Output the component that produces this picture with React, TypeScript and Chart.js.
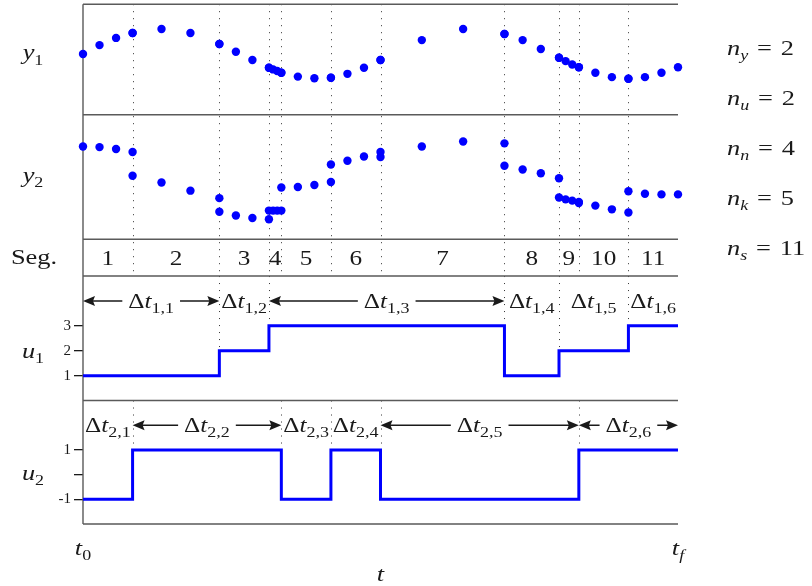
import React, { useEffect, useRef } from 'react';
import { Chart, registerables } from 'chart.js';

Chart.register(...registerables);

const FONT = '"Liberation Serif", "Times New Roman", serif';
const INK = '#1a1a1a';
const BLUE = '#0000ff';
const FRAME = '#5a5a5a';
const TEXT_STRETCH = 1.2;

// Segment boundaries on the time axis, t0 = 0 and tf = 12
const segmentBounds = [0, 1, 2.75, 3.75, 4, 5, 6, 8.5, 9.6, 10, 11, 12];
const segmentLabels = ['1', '2', '3', '4', '5', '6', '7', '8', '9', '10', '11'];
// Relative position of the collocation nodes inside every segment
const nodeFractions = [0, 1 / 3, 2 / 3, 1];

// Output y1, four nodes per segment
const y1Values = [
  0.10, 0.26, 0.39, 0.48,
  0.48, 0.55, 0.48, 0.28,
  0.28, 0.14, -0.01, -0.15,
  -0.15, -0.18, -0.21, -0.24,
  -0.24, -0.31, -0.34, -0.33,
  -0.33, -0.26, -0.15, -0.01,
  -0.01, 0.35, 0.55, 0.46,
  0.46, 0.35, 0.19, 0.03,
  0.03, -0.03, -0.09, -0.14,
  -0.14, -0.24, -0.32, -0.35,
  -0.35, -0.32, -0.24, -0.14,
];

// Output y2, four nodes per segment (jumps at the segment boundaries)
const y2Values = [
  0.49, 0.48, 0.45, 0.40,
  0.02, -0.09, -0.22, -0.34,
  -0.56, -0.62, -0.66, -0.68,
  -0.54, -0.54, -0.54, -0.54,
  -0.17, -0.16, -0.13, -0.08,
  0.20, 0.26, 0.33, 0.40,
  0.32, 0.49, 0.57, 0.54,
  0.18, 0.12, 0.06, -0.02,
  -0.33, -0.36, -0.38, -0.40,
  -0.42, -0.46, -0.52, -0.57,
  -0.23, -0.27, -0.28, -0.28,
];

// Piecewise constant controls: switching times and the level held from each
const u1Times = [0, 2.75, 3.75, 8.5, 9.6, 11, 12];
const u1Values = [1, 2, 3, 1, 2, 3, 3];
const u2Times = [0, 1, 4, 5, 6, 10, 12];
const u2Values = [-1, 1, -1, 1, -1, 1, 1];

const u1Ticks = [1, 2, 3];
const u2Ticks = [-1, 0, 1];
const u2TickLabels = ['-1', '', '1'];

const problemSizes: [string, string][] = [
  ['y', '2'],
  ['u', '2'],
  ['n', '4'],
  ['k', '5'],
  ['s', '11'],
];

type Piece = { s: string; it?: boolean; sub?: boolean };

const fontFor = (p: Piece, size: number) =>
  `${p.it ? 'italic ' : ''}${p.sub ? Math.round(size * 0.7) : size}px ${FONT}`;

function measure(ctx: CanvasRenderingContext2D, pieces: Piece[], size: number) {
  let w = 0;
  for (const p of pieces) {
    ctx.font = fontFor(p, size);
    w += ctx.measureText(p.s).width * TEXT_STRETCH;
  }
  return w;
}

function drawMath(
  ctx: CanvasRenderingContext2D,
  pieces: Piece[],
  x: number,
  baseline: number,
  size: number,
  align: 'left' | 'center' | 'right' = 'center'
) {
  const w = measure(ctx, pieces, size);
  let cx = align === 'center' ? x - w / 2 : align === 'right' ? x - w : x;
  ctx.textAlign = 'left';
  ctx.textBaseline = 'alphabetic';
  for (const p of pieces) {
    ctx.font = fontFor(p, size);
    ctx.save();
    ctx.translate(cx, baseline + (p.sub ? size * 0.24 : 0));
    ctx.scale(TEXT_STRETCH, 1);
    ctx.fillText(p.s, 0, 0);
    ctx.restore();
    cx += ctx.measureText(p.s).width * TEXT_STRETCH;
  }
  return w;
}

function arrowHead(ctx: CanvasRenderingContext2D, tipX: number, y: number, dir: number) {
  ctx.beginPath();
  ctx.moveTo(tipX, y);
  ctx.lineTo(tipX - dir * 12, y - 5);
  ctx.lineTo(tipX - dir * 10, y);
  ctx.lineTo(tipX - dir * 12, y + 5);
  ctx.closePath();
  ctx.fill();
}

function intervalLabel(
  ctx: CanvasRenderingContext2D,
  x0: number,
  x1: number,
  y: number,
  pieces: Piece[]
) {
  const size = 21;
  const cx = (x0 + x1) / 2;
  const w = drawMath(ctx, pieces, cx, y + 7, size, 'center');
  if (x1 - x0 - w > 35) {
    const gap = 6;
    ctx.beginPath();
    ctx.moveTo(x0 + 8, y);
    ctx.lineTo(cx - w / 2 - gap, y);
    ctx.moveTo(cx + w / 2 + gap, y);
    ctx.lineTo(x1 - 8, y);
    ctx.stroke();
    arrowHead(ctx, x0, y, -1);
    arrowHead(ctx, x1, y, 1);
  }
}

function nodePoints(values: number[]) {
  const pts: { x: number; y: number }[] = [];
  for (let s = 0; s < segmentBounds.length - 1; s++) {
    const a = segmentBounds[s];
    const b = segmentBounds[s + 1];
    nodeFractions.forEach((f, k) => pts.push({ x: a + (b - a) * f, y: values[s * nodeFractions.length + k] }));
  }
  return pts;
}

const stepPoints = (times: number[], values: number[]) => times.map((t, i) => ({ x: t, y: values[i] }));

const diagramPlugin = {
  id: 'diagram',
  beforeDatasetsDraw(chart: any) {
    const { ctx, scales } = chart;
    const xs = scales.x;
    const px = (t: number) => Math.round(xs.getPixelForValue(t)) + 0.5;
    ctx.save();

    // dotted segment boundaries through the outputs and the segment row
    ctx.strokeStyle = '#333';
    ctx.lineWidth = 1;
    ctx.setLineDash([1, 6]);
    ctx.beginPath();
    for (let i = 1; i < segmentBounds.length - 1; i++) {
      const x = px(segmentBounds[i]);
      ctx.moveTo(x, scales.y1.top);
      ctx.lineTo(x, scales.seg.bottom);
    }
    // switching instants of the controls
    const switches = (times: number[], values: number[], scale: any) => {
      for (let i = 1; i < times.length - 1; i++) {
        const x = px(times[i]);
        const level = Math.max(values[i - 1], values[i]);
        ctx.moveTo(x, scale.top);
        ctx.lineTo(x, scale.getPixelForValue(level));
      }
    };
    switches(u1Times, u1Values, scales.u1);
    switches(u2Times, u2Values, scales.u2);
    ctx.stroke();
    ctx.setLineDash([]);

    // panel frame
    ctx.strokeStyle = FRAME;
    ctx.lineWidth = 1.4;
    ctx.beginPath();
    const left = chart.chartArea.left;
    const right = chart.chartArea.right;
    for (const id of ['y1', 'y2', 'seg', 'u1', 'u2']) {
      ctx.moveTo(left, scales[id].top);
      ctx.lineTo(right, scales[id].top);
    }
    ctx.moveTo(left, scales.u2.bottom);
    ctx.lineTo(right, scales.u2.bottom);
    ctx.moveTo(left, scales.y1.top);
    ctx.lineTo(left, scales.u2.bottom);
    ctx.stroke();
    ctx.restore();
  },
  afterDraw(chart: any) {
    const { ctx, scales } = chart;
    const xs = scales.x;
    ctx.save();
    ctx.fillStyle = INK;
    ctx.strokeStyle = INK;
    ctx.lineWidth = 1.4;

    // panel names
    drawMath(ctx, [{ s: 'y', it: true }, { s: '1', sub: true }], 33, scales.y1.getPixelForValue(0), 22);
    drawMath(ctx, [{ s: 'y', it: true }, { s: '2', sub: true }], 33, scales.y2.getPixelForValue(0) + 5, 22);
    drawMath(ctx, [{ s: 'Seg.' }], 34, scales.seg.getPixelForValue(0.5) + 6.5, 22);
    drawMath(ctx, [{ s: 'u', it: true }, { s: '1', sub: true }], 33, scales.u1.getPixelForValue(2) + 7, 22);
    drawMath(ctx, [{ s: 'u', it: true }, { s: '2', sub: true }], 33, scales.u2.getPixelForValue(0) + 5, 22);

    // segment numbers
    for (let i = 0; i < segmentLabels.length; i++) {
      const cx = (xs.getPixelForValue(segmentBounds[i]) + xs.getPixelForValue(segmentBounds[i + 1])) / 2;
      drawMath(ctx, [{ s: segmentLabels[i] }], cx, scales.seg.getPixelForValue(0.5) + 7, 21);
    }

    // control interval lengths
    const intervals = (times: number[], row: number, scale: any, level: number) => {
      for (let i = 0; i < times.length - 1; i++) {
        intervalLabel(
          ctx,
          xs.getPixelForValue(times[i]),
          xs.getPixelForValue(times[i + 1]),
          scale.getPixelForValue(level),
          [{ s: 'Δ' }, { s: 't', it: true }, { s: `${row},${i + 1}`, sub: true }]
        );
      }
    };
    intervals(u1Times, 1, scales.u1, 4);
    intervals(u2Times, 2, scales.u2, 2);

    // time axis
    drawMath(ctx, [{ s: 't', it: true }, { s: '0', sub: true }], xs.getPixelForValue(0), 555, 22);
    drawMath(ctx, [{ s: 't', it: true }, { s: 'f', it: true, sub: true }], xs.getPixelForValue(12), 555, 22);
    drawMath(ctx, [{ s: 't', it: true }], xs.getPixelForValue(6), 581, 22);

    // problem dimensions
    problemSizes.forEach(([sym, val], i) => {
      drawMath(
        ctx,
        [{ s: 'n', it: true }, { s: sym, it: true, sub: true }, { s: ' \u200A=\u200A ' }, { s: val }],
        727,
        55 + 50 * i,
        22,
        'left'
      );
    });
    ctx.restore();
  },
};

// every panel axis shares the same column width and adds no label padding
const fixAxisBox = (s: any) => {
  s.width = 83;
  s.paddingTop = 0;
  s.paddingBottom = 0;
};

const hiddenAxis = (weight: number, stackWeight: number, min: number, max: number) => ({
  type: 'linear' as const,
  position: 'left' as const,
  stack: 'panels',
  stackWeight,
  weight,
  min,
  max,
  ticks: { display: false },
  grid: { display: false },
  border: { display: false },
  afterFit: fixAxisBox,
});

const tickFont = { family: FONT, size: 15 };

export default function App() {
  const ref = useRef<HTMLCanvasElement>(null);

  useEffect(() => {
    const canvas = ref.current;
    if (!canvas) return;
    const chart = new Chart(canvas, {
      type: 'scatter',
      data: {
        datasets: [
          {
            label: 'y1',
            data: nodePoints(y1Values),
            yAxisID: 'y1',
            pointRadius: 4.2,
            pointBackgroundColor: BLUE,
            pointBorderWidth: 0,
            showLine: false,
            clip: false,
          },
          {
            label: 'y2',
            data: nodePoints(y2Values),
            yAxisID: 'y2',
            pointRadius: 4.2,
            pointBackgroundColor: BLUE,
            pointBorderWidth: 0,
            showLine: false,
            clip: false,
          },
          {
            type: 'line',
            label: 'u1',
            data: stepPoints(u1Times, u1Values),
            yAxisID: 'u1',
            stepped: 'before',
            borderColor: BLUE,
            borderWidth: 3,
            pointRadius: 0,
            fill: false,
          },
          {
            type: 'line',
            label: 'u2',
            data: stepPoints(u2Times, u2Values),
            yAxisID: 'u2',
            stepped: 'before',
            borderColor: BLUE,
            borderWidth: 3,
            pointRadius: 0,
            fill: false,
          },
        ] as any,
      },
      options: {
        animation: false,
        responsive: false,
        devicePixelRatio: 1,
        layout: { padding: { left: 0, top: 2, right: 134, bottom: 62 } },
        plugins: { legend: { display: false }, tooltip: { enabled: false }, title: { display: false } },
        events: [],
        scales: {
          x: { type: 'linear', min: 0, max: 12, display: false },
          y1: hiddenAxis(5, 111, -1, 1),
          y2: hiddenAxis(4, 125, -1, 1),
          seg: hiddenAxis(3, 37, 0, 1),
          u1: {
            type: 'linear',
            position: 'left',
            stack: 'panels',
            stackWeight: 125,
            weight: 2,
            min: 0,
            max: 5,
            afterBuildTicks: (s: any) => {
              s.ticks = u1Ticks.map((v) => ({ value: v }));
            },
            ticks: { font: tickFont, color: INK, padding: 3 },
            grid: { drawOnChartArea: false, drawTicks: true, tickLength: 9, color: INK, lineWidth: 1.3 },
            border: { display: false },
            afterFit: fixAxisBox,
          },
          u2: {
            type: 'linear',
            position: 'left',
            stack: 'panels',
            stackWeight: 124,
            weight: 1,
            min: -2,
            max: 3,
            afterBuildTicks: (s: any) => {
              s.ticks = u2Ticks.map((v) => ({ value: v }));
            },
            ticks: {
              font: tickFont,
              color: INK,
              padding: 3,
              callback: (v: any) => u2TickLabels[u2Ticks.indexOf(Number(v))],
            },
            grid: { drawOnChartArea: false, drawTicks: true, tickLength: 9, color: INK, lineWidth: 1.3 },
            border: { display: false },
            afterFit: fixAxisBox,
          },
        } as any,
      },
      plugins: [diagramPlugin],
    });
    return () => chart.destroy();
  }, []);

  return (
    <div style={{ position: 'absolute', left: 0, top: 0, width: 812, height: 586, background: '#fff' }}>
      <canvas ref={ref} width={812} height={586} style={{ display: 'block', width: 812, height: 586 }} />
    </div>
  );
}
